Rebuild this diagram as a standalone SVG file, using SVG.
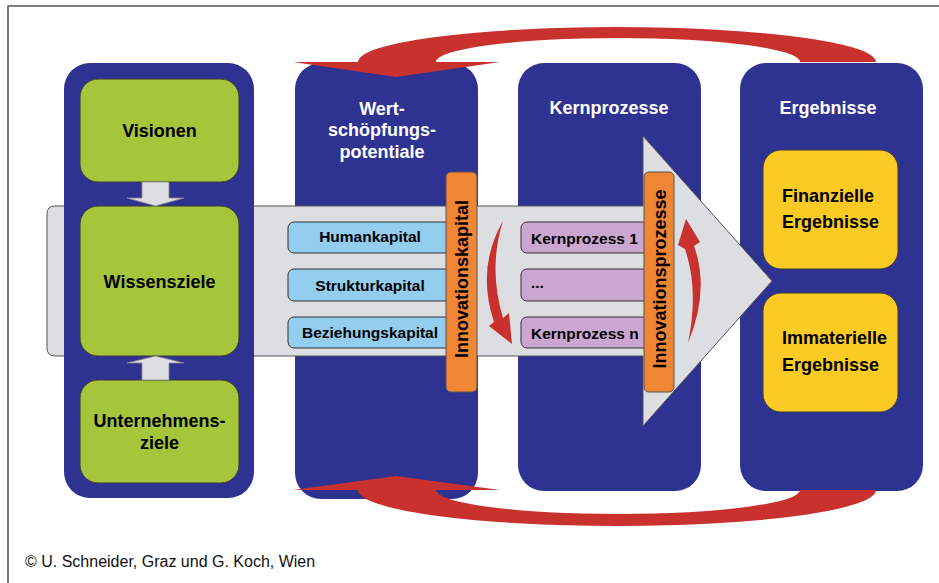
<svg xmlns="http://www.w3.org/2000/svg" width="939" height="583" viewBox="0 0 939 583">
<style>
.col{fill:#2E3392}
.t{font-family:"Liberation Sans",Arial,sans-serif;font-weight:bold;fill:#000}
.title{font-family:"Liberation Sans",Arial,sans-serif;font-weight:bold;fill:#fff;font-size:18px;text-anchor:middle}
.big{font-size:18px}
.small{font-size:15.5px}
.green{fill:#A5C53B;stroke:#3a3a3a;stroke-width:1}
.yellow{fill:#FBCB24;stroke:#3a3a3a;stroke-width:1}
.blue{fill:#93CDEF;stroke:#333;stroke-width:1}
.lilac{fill:#CBA6D0;stroke:#333;stroke-width:1}
.orange{fill:#F08533;stroke:#555;stroke-width:1}
.grey{fill:#DCDEE2;stroke:#555;stroke-width:1}
.red{fill:#C8312E}
</style>
<rect width="939" height="583" fill="#fff"/>
<path d="M8 583 L8 6 L939 6" fill="none" stroke="#555" stroke-width="1.5"/>

<g id="col-wert"><rect class="col" x="295" y="63" width="183" height="436" rx="26"/></g>
<g id="col-kern"><rect class="col" x="518" y="63" width="183" height="428" rx="26"/></g>
<g id="col-ergebnisse"><rect class="col" x="740" y="63" width="183" height="428" rx="26"/></g>

<g id="band">
<path class="grey" d="M55 206 L643 206 L643 136 L772 281 L643 426 L643 356 L55 356 Q47 356 47 348 L47 214 Q47 206 55 206 Z"/>
</g>

<g id="col-ziele"><rect class="col" x="64" y="63" width="190" height="435" rx="26"/></g>

<g id="visionen">
<rect class="green" x="80" y="79" width="159" height="103" rx="18"/>
<text class="t big" x="159.5" y="137" text-anchor="middle">Visionen</text>
</g>
<g id="wissensziele">
<rect class="green" x="80" y="206" width="159" height="150" rx="18"/>
<text class="t big" x="159.5" y="288" text-anchor="middle">Wissensziele</text>
</g>
<g id="unternehmensziele">
<rect class="green" x="80" y="380" width="159" height="103" rx="18"/>
<text class="t big" x="159.5" y="427" text-anchor="middle">Unternehmens-</text>
<text class="t big" x="159.5" y="449" text-anchor="middle">ziele</text>
</g>

<g id="connectors">
<path d="M142 182 L169 182 L169 198 L184 198 L155.5 206 L127 198 L142 198 Z" fill="#DCDEE2" stroke="#888" stroke-width="0.8"/>
<path d="M142 380 L169 380 L169 363 L184 363 L155.5 356 L127 363 L142 363 Z" fill="#DCDEE2" stroke="#888" stroke-width="0.8"/>
<path class="red" d="M876 62 A259 35 0 0 0 358 62 L293 62 L396 77 L500 62 L436 62 A182 24 0 0 1 800 62 Z"/>
<path class="red" d="M876 490 A259 36 0 0 1 358 490 L293 490 L396 476 L500 490 L436 490 A182 24 0 0 0 800 490 Z"/>
<path class="red" d="M503 221 Q476 268 494 322 L489 326 L512 344 L509 313 L503 318 Q488 268 503 221 Z"/>
<path class="red" d="M688 343 Q710 290 694 246 L700 242 L686 219 L678 245 L685 249 Q699 290 688 343 Z"/>
</g>

<g id="humankapital">
<rect class="blue" x="288" y="222" width="172" height="31" rx="6"/>
<text class="t small" x="370" y="242" text-anchor="middle">Humankapital</text>
</g>
<g id="strukturkapital">
<rect class="blue" x="288" y="269" width="172" height="32" rx="6"/>
<text class="t small" x="370" y="291" text-anchor="middle">Strukturkapital</text>
</g>
<g id="beziehungskapital">
<rect class="blue" x="288" y="317" width="172" height="31" rx="6"/>
<text class="t small" x="370" y="338" text-anchor="middle">Beziehungskapital</text>
</g>

<g id="kernprozess1">
<rect class="lilac" x="521" y="222" width="134" height="31" rx="6"/>
<text class="t small" x="531" y="244">Kernprozess 1</text>
</g>
<g id="kernprozess-dots">
<rect class="lilac" x="521" y="269" width="134" height="32" rx="6"/>
<text class="t small" x="531" y="288">...</text>
</g>
<g id="kernprozessn">
<rect class="lilac" x="521" y="317" width="134" height="31" rx="6"/>
<text class="t small" x="531" y="339">Kernprozess n</text>
</g>

<g id="innovationskapital">
<rect class="orange" x="446" y="172" width="31" height="220" rx="5"/>
<text class="t big" transform="translate(468 279) rotate(-90)" text-anchor="middle">Innovationskapital</text>
</g>
<g id="innovationsprozesse">
<rect class="orange" x="644" y="172" width="30" height="220" rx="5"/>
<text class="t big" transform="translate(666 279) rotate(-90)" text-anchor="middle">Innovationsprozesse</text>
</g>

<g id="finanzielle">
<rect class="yellow" x="763" y="150" width="135" height="119" rx="18"/>
<text class="t big" x="782" y="202">Finanzielle</text>
<text class="t big" x="782" y="228">Ergebnisse</text>
</g>
<g id="immaterielle">
<rect class="yellow" x="763" y="293" width="135" height="119" rx="18"/>
<text class="t big" x="782" y="344">Immaterielle</text>
<text class="t big" x="782" y="371">Ergebnisse</text>
</g>

<g id="titles">
<text class="title" x="382" y="115">Wert-</text>
<text class="title" x="382" y="136">schöpfungs-</text>
<text class="title" x="382" y="158">potentiale</text>
<text class="title" x="609" y="114">Kernprozesse</text>
<text class="title" x="828" y="114">Ergebnisse</text>
</g>

<text x="25" y="567" font-family="Liberation Sans, Arial, sans-serif" font-size="16" fill="#111">© U. Schneider, Graz und G. Koch, Wien</text>
</svg>
